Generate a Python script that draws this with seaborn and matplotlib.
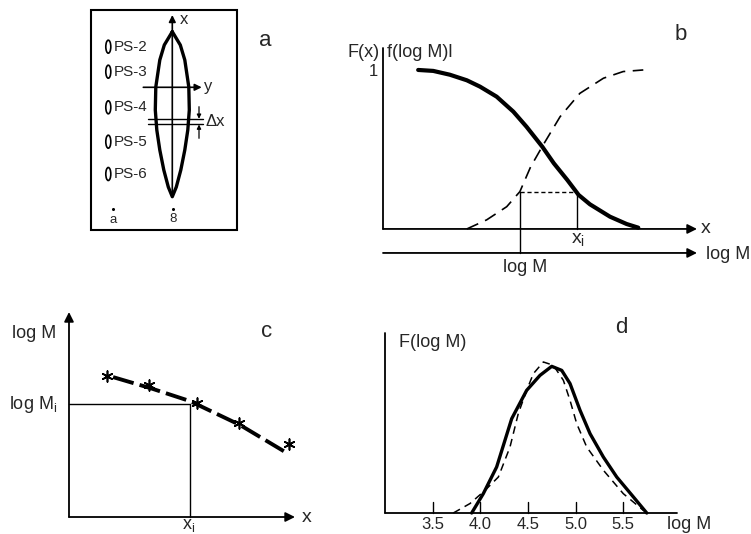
import matplotlib
matplotlib.use('Agg')
import matplotlib.pyplot as plt
import seaborn as sns
from matplotlib.patches import Ellipse, Rectangle

sns.set_theme(style='white')
plt.rcParams['font.family'] = ['Liberation Sans', 'DejaVu Sans']
plt.rcParams['mathtext.fontset'] = 'custom'
plt.rcParams['mathtext.rm'] = 'Liberation Sans'
plt.rcParams['mathtext.it'] = 'Liberation Sans:italic'

# ---------------- data ----------------
# panel a (schematic column, pixel-like units)
lens_y = [31.7, 45, 60, 87, 110, 130, 150, 170, 187, 196.7]
lens_half = [0, 8, 12.5, 16.5, 17, 15.5, 12.5, 8.5, 4, 0]
lens_cx = 172.3
ps_labels = ['PS-2', 'PS-3', 'PS-4', 'PS-5', 'PS-6']
ps_y = [46.7, 71.7, 107.3, 141.7, 174]

# panel b
b_solid_x = [1.12, 1.60, 2.13, 2.67, 3.09, 3.62, 4.15, 4.57, 5.07, 5.44, 5.87, 6.23,
             6.59, 7.23, 7.76, 8.13]
b_solid_y = [1.0, 0.994, 0.97, 0.935, 0.895, 0.832, 0.738, 0.643, 0.518, 0.413, 0.308,
             0.214, 0.155, 0.077, 0.031, 0.008]
b_dash_x = [2.67, 3.30, 3.94, 4.36, 4.70, 5.10, 5.64, 6.27, 7.02, 7.65, 8.29]
b_dash_y = [0, 0.057, 0.14, 0.235, 0.39, 0.528, 0.706, 0.853, 0.948, 0.99, 1.0]
b_xi, b_logm, b_level = 6.17, 4.36, 0.235

# panel c
c_star_x = [1.67, 3.55, 5.65, 7.54, 9.75]
c_star_y = [6.24, 5.84, 5.06, 4.15, 3.22]
c_line_x = [1.95, 3.58, 5.35, 7.57, 9.56]
c_line_y = [6.19, 5.71, 5.13, 4.07, 2.88]
c_xi, c_logmi = 5.35, 5.0

# panel d
d_ticks = [3.5, 4.0, 4.5, 5.0, 5.5]
d_tick_labels = ['3.5', '4.0', '4.5', '5.0', '5.5']
d_solid_x = [3.909, 4.031, 4.171, 4.329, 4.486, 4.626, 4.749, 4.854, 4.941, 5.046,
             5.151, 5.291, 5.431, 5.606, 5.746]
d_solid_y = [0, 0.129, 0.307, 0.629, 0.818, 0.918, 0.978, 0.951, 0.863, 0.685,
             0.529, 0.373, 0.24, 0.107, 0]
d_dash_x = [3.716, 3.891, 4.049, 4.189, 4.311, 4.398, 4.486, 4.556, 4.661, 4.766,
            4.871, 4.941, 5.011, 5.116, 5.291, 5.500, 5.710]
d_dash_y = [0, 0.063, 0.151, 0.24, 0.44, 0.663, 0.818, 0.929, 1.007, 0.985,
            0.885, 0.751, 0.596, 0.44, 0.285, 0.129, 0.018]

W, H = 751, 534
fig = plt.figure(figsize=(W / 100, H / 100), dpi=100)
fig.patch.set_facecolor('white')


def panel(px0, py0, px1, py1):
    ax = fig.add_axes([px0 / W, 1 - py1 / H, (px1 - px0) / W, (py1 - py0) / H])
    ax.axis('off')
    return ax


def arrow(ax, x0, y0, x1, y1, lw=1.3, ms=14):
    ax.annotate('', xy=(x1, y1), xytext=(x0, y0),
                arrowprops=dict(arrowstyle='-|>', lw=lw, color='black',
                                mutation_scale=ms, shrinkA=0, shrinkB=0))


K = 'black'

# ---------------- panel a ----------------
ax = panel(85, 0, 330, 240)
ax.add_patch(Rectangle((91, 10), 146, 220, fill=False, lw=1.5, ec=K))
lx = [lens_cx - h for h in lens_half] + [lens_cx + h for h in lens_half[::-1]]
ly = list(lens_y) + list(lens_y[::-1])
sns.lineplot(x=lx, y=ly, sort=False, estimator=None, color=K, lw=2.4, ax=ax)
arrow(ax, lens_cx, 197, lens_cx, 15, lw=1.2, ms=10)
arrow(ax, 143.3, 87.3, 201.7, 87.3, lw=1.2, ms=10)
ax.plot([148.3, 203.3], [119.3, 119.3], color=K, lw=1.0)
ax.plot([148.3, 203.3], [124.0, 124.0], color=K, lw=1.0)
arrow(ax, 199, 106.7, 199, 118.8, lw=0.9, ms=6)
arrow(ax, 199, 138.3, 199, 124.5, lw=0.9, ms=6)
ax.text(180, 20, 'x', fontsize=12, ha='left', va='center')
ax.text(204, 86, 'y', fontsize=12, ha='left', va='center')
ax.text(206, 122, 'Δx', fontsize=12, ha='left', va='center')
for lab, yy in zip(ps_labels, ps_y):
    ax.add_patch(Ellipse((108.3, yy), 5, 13, fill=False, lw=1.2, ec=K))
    ax.text(114, yy, lab, fontsize=11, ha='left', va='center')
ax.plot([112.7, 173.3], [209.3, 209.3], ls='none', marker='o', ms=1.2, color=K)
ax.text(112.7, 220, 'a', fontsize=9.5, ha='center', va='center')
ax.text(173.3, 219.5, '8', fontsize=9.5, ha='center', va='center')
ax.text(265, 40, 'a', fontsize=16, ha='center', va='center')
ax.set_xlim(85, 330)
ax.set_ylim(240, 0)

# ---------------- panel b ----------------
ax = panel(330, 0, 751, 290)
ax.plot([0, 0], [0, 1.138], color=K, lw=1.3)
arrow(ax, 0, 0, 10, 0)
arrow(ax, 0, -0.151, 10, -0.151)
ax.plot([b_xi, b_xi], [0, b_level], color=K, lw=1.0)
ax.plot([b_logm, b_logm], [-0.151, b_level], color=K, lw=1.0)
ax.plot([b_logm, b_xi], [b_level, b_level], color=K, lw=1.0, ls=(0, (3, 2)))
sns.lineplot(x=b_solid_x, y=b_solid_y, sort=False, estimator=None, color=K, lw=3.0, ax=ax)
sns.lineplot(x=b_dash_x, y=b_dash_y, sort=False, estimator=None, color=K, lw=1.2,
             ls=(0, (7.5, 4.5)), ax=ax)
ax.text(-0.1, 1.107, 'F(x)', fontsize=13, ha='right', va='center')
ax.text(0.13, 1.107, 'f(log M)l', fontsize=13, ha='left', va='center')
ax.text(-0.32, 0.99, '1', fontsize=12, ha='center', va='center')
ax.text(9.47, 1.22, 'b', fontsize=16, ha='center', va='center')
ax.text(10.12, 0, 'x', fontsize=14, ha='left', va='center')
ax.text(10.3, -0.163, 'log M', fontsize=13, ha='left', va='center')
ax.text(6.21, -0.068, r'$\mathrm{x_i}$', fontsize=14, ha='center', va='center')
ax.text(4.52, -0.245, 'log M', fontsize=13, ha='center', va='center')
ax.set_xlim(-1.688, 11.72)
ax.set_ylim(-0.384, 1.440)

# ---------------- panel c ----------------
ax = panel(0, 280, 330, 534)
arrow(ax, 0, 0, 0, 9.07)
arrow(ax, 0, 0, 10, 0)
ax.plot([0, c_xi], [c_logmi, c_logmi], color=K, lw=1.0)
ax.plot([c_xi, c_xi], [0, c_logmi], color=K, lw=1.0)
sns.lineplot(x=c_line_x, y=c_line_y, sort=False, estimator=None, color=K, lw=2.8,
             ls=(0, (5.5, 1.6)), ax=ax)
sns.scatterplot(x=c_star_x, y=c_star_y, marker=(6, 2, 0), s=60, color=K, linewidth=1.2, ax=ax)
ax.text(-0.55, 8.14, 'log M', fontsize=13, ha='right', va='center')
ax.text(-0.5, 4.96, r'$\mathrm{log\ M_i}$', fontsize=13, ha='right', va='center')
ax.text(8.76, 8.19, 'c', fontsize=16, ha='center', va='center')
ax.text(10.3, 0, 'x', fontsize=14, ha='left', va='center')
ax.text(5.31, -0.36, r'$\mathrm{x_i}$', fontsize=13, ha='center', va='center')
ax.set_xlim(-3.053, 11.549)
ax.set_ylim(-0.752, 10.487)

# ---------------- panel d ----------------
ax = panel(370, 290, 751, 534)
ax.plot([3.0, 3.0], [0, 1.2], color=K, lw=1.3)
ax.plot([3.0, 6.06], [0, 0], color=K, lw=1.3)
for t, lab in zip(d_ticks, d_tick_labels):
    ax.plot([t, t], [0, 0.073], color=K, lw=1.0)
    ax.text(t, -0.075, lab, fontsize=12, ha='center', va='center')
sns.lineplot(x=d_solid_x, y=d_solid_y, sort=False, estimator=None, color=K, lw=2.4, ax=ax)
sns.lineplot(x=d_dash_x, y=d_dash_y, sort=False, estimator=None, color=K, lw=1.1,
             ls=(0, (5, 3.5)), ax=ax)
ax.text(3.5, 1.135, 'F(log M)', fontsize=13, ha='center', va='center')
ax.text(6.19, -0.075, 'log M', fontsize=13, ha='center', va='center')
ax.text(5.48, 1.24, 'd', fontsize=16, ha='center', va='center')
ax.set_xlim(2.842, 6.840)
ax.set_ylim(-0.14, 1.487)

fig.savefig('out.png', dpi=100, facecolor='white')
